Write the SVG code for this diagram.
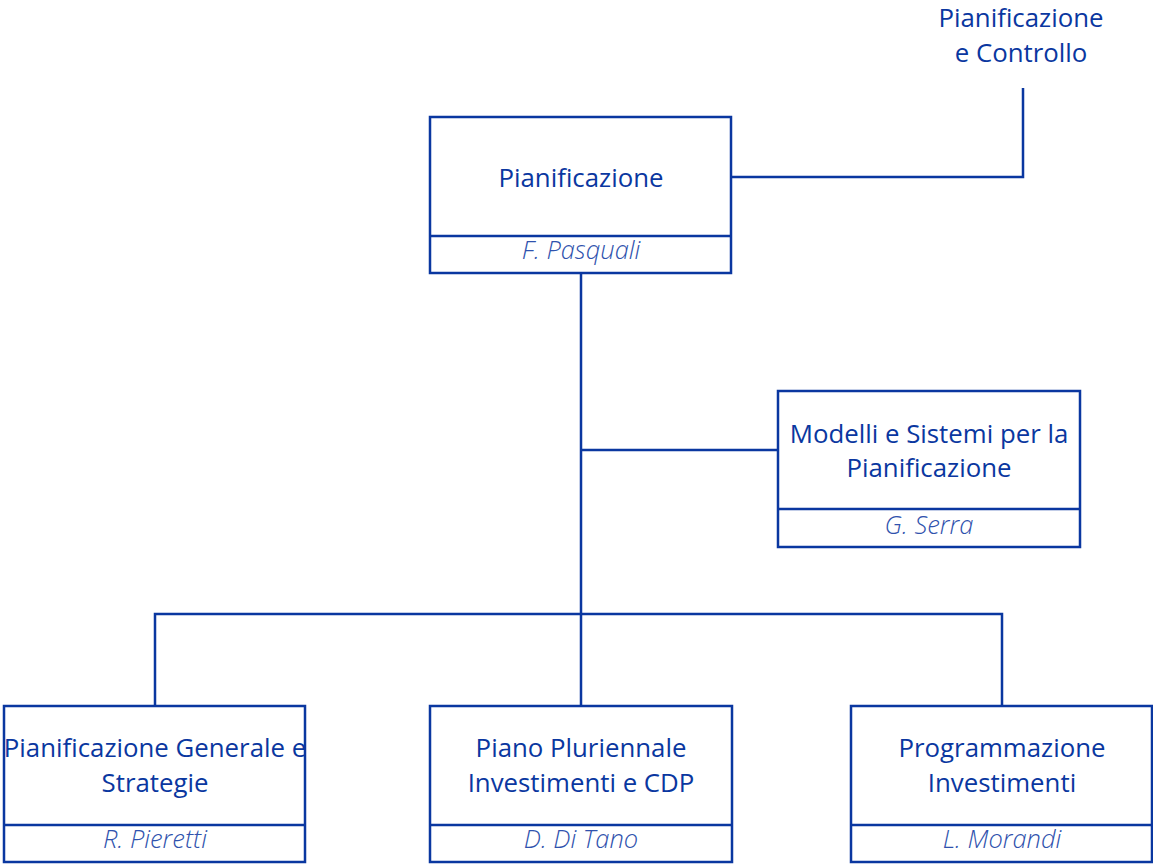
<svg xmlns="http://www.w3.org/2000/svg" width="1153" height="866" viewBox="0 0 1153 866">
<style>
.box{fill:#fff;stroke:#0a37a0;stroke-width:2.5}
.ln{fill:none;stroke:#0a37a0;stroke-width:2.5}
.t{font-family:"Open Sans","Liberation Sans",sans-serif;font-size:25.8px;fill:#0a37a0;text-anchor:middle}
.n{font-family:"Open Sans","Liberation Sans",sans-serif;font-size:25.5px;font-style:italic;font-weight:300;fill:#2f52ad;text-anchor:middle}
</style>
<rect width="1153" height="866" fill="#fff"/>
<g id="connectors">
<polyline class="ln" points="731,177 1023,177 1023,88"/>
<line class="ln" x1="581" y1="273" x2="581" y2="706"/>
<line class="ln" x1="581" y1="450" x2="778" y2="450"/>
<polyline class="ln" points="155,706 155,614 1002,614 1002,706"/>
</g>
<g id="pc">
<text class="t" x="1021" y="27">Pianificazione</text>
<text class="t" x="1021" y="62">e Controllo</text>
</g>
<g id="pianificazione">
<rect class="box" x="430" y="117" width="301" height="156"/>
<line class="ln" x1="430" y1="236" x2="731" y2="236"/>
<text class="t" x="581" y="187">Pianificazione</text>
<text class="n" x="581" y="259">F. Pasquali</text>
</g>
<g id="modelli">
<rect class="box" x="778" y="391" width="302" height="156"/>
<line class="ln" x1="778" y1="509" x2="1080" y2="509"/>
<text class="t" x="929" y="443">Modelli e Sistemi per la</text>
<text class="t" x="929" y="477">Pianificazione</text>
<text class="n" x="929" y="534">G. Serra</text>
</g>
<g id="generale">
<rect class="box" x="4" y="706" width="301" height="156"/>
<line class="ln" x1="4" y1="825" x2="305" y2="825"/>
<text class="t" x="155" y="757">Pianificazione Generale e</text>
<text class="t" x="155" y="792">Strategie</text>
<text class="n" x="155" y="848">R. Pieretti</text>
</g>
<g id="piano">
<rect class="box" x="430" y="706" width="302" height="156"/>
<line class="ln" x1="430" y1="825" x2="732" y2="825"/>
<text class="t" x="581" y="757">Piano Pluriennale</text>
<text class="t" x="581" y="792">Investimenti e CDP</text>
<text class="n" x="581" y="848">D. Di Tano</text>
</g>
<g id="programmazione">
<rect class="box" x="851" y="706" width="301" height="156"/>
<line class="ln" x1="851" y1="825" x2="1152" y2="825"/>
<text class="t" x="1002" y="757">Programmazione</text>
<text class="t" x="1002" y="792">Investimenti</text>
<text class="n" x="1002" y="848">L. Morandi</text>
</g>
</svg>
